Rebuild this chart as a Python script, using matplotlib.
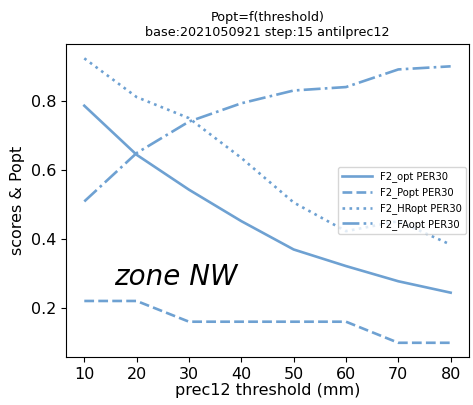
import matplotlib
matplotlib.use("Agg")
import matplotlib.pyplot as plt

thresholds = [10, 20, 30, 40, 50, 60, 70, 80]
f2_opt = [0.786, 0.644, 0.543, 0.452, 0.370, 0.322, 0.278, 0.245]
f2_popt = [0.221, 0.221, 0.161, 0.161, 0.161, 0.161, 0.100, 0.100]
f2_hropt = [0.923, 0.811, 0.750, 0.635, 0.506, 0.423, 0.452, 0.384]
f2_faopt = [0.509, 0.649, 0.740, 0.793, 0.830, 0.840, 0.891, 0.900]

labels = ["F2_opt PER30", "F2_Popt PER30", "F2_HRopt PER30", "F2_FAopt PER30"]
color = "#6ea1d2"

fig = plt.figure(figsize=(4.73, 4.05), dpi=100)
ax = fig.add_axes([0.1395, 0.1185, 0.852, 0.7725])

lw = 1.9
ax.plot(thresholds, f2_opt, color=color, lw=lw, ls="-", label=labels[0])
ax.plot(thresholds, f2_popt, color=color, lw=lw, ls="--", label=labels[1])
ax.plot(thresholds, f2_hropt, color=color, lw=lw, ls=":", label=labels[2])
ax.plot(thresholds, f2_faopt, color=color, lw=lw, ls="-.", label=labels[3])

ax.set_xticks(thresholds)
ax.set_yticks([0.2, 0.4, 0.6, 0.8])
ax.tick_params(labelsize=11.5)
ax.set_xlabel("prec12 threshold (mm)", fontsize=11.5, labelpad=1)
ax.set_ylabel("scores & Popt", fontsize=11.5)
ax.set_title("Popt=f(threshold)\nbase:2021050921 step:15 antilprec12", fontsize=9.2)

ax.text(15.7, 0.267, "zone NW", fontsize=20, style="italic", va="baseline")
ax.legend(loc="center right", fontsize=7.2, borderaxespad=0.3, handlelength=3)

fig.savefig("out.png", dpi=100)
